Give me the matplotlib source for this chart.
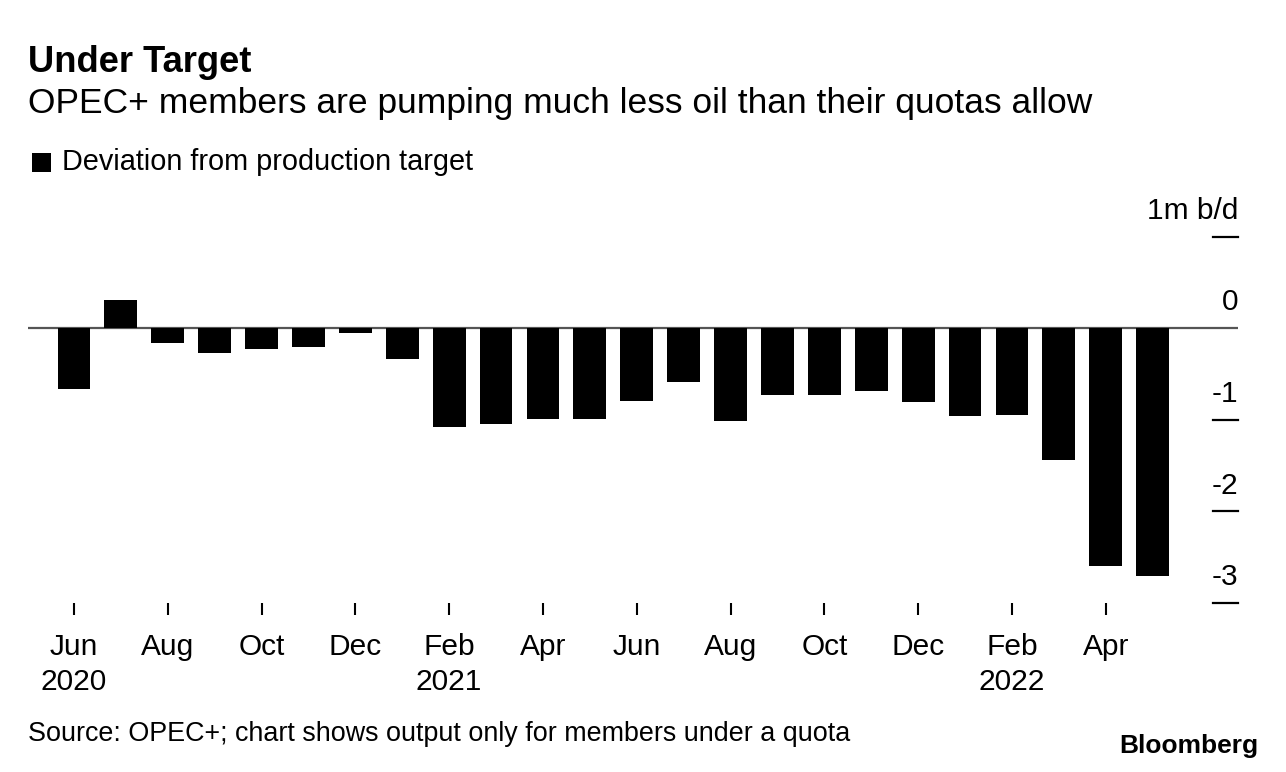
import matplotlib
matplotlib.use("Agg")
import matplotlib.pyplot as plt
from matplotlib.patches import Rectangle

months = ["Jun 2020", "Jul 2020", "Aug 2020", "Sep 2020", "Oct 2020", "Nov 2020",
          "Dec 2020", "Jan 2021", "Feb 2021", "Mar 2021", "Apr 2021", "May 2021",
          "Jun 2021", "Jul 2021", "Aug 2021", "Sep 2021", "Oct 2021", "Nov 2021",
          "Dec 2021", "Jan 2022", "Feb 2022", "Mar 2022", "Apr 2022", "May 2022"]
deviation = [-0.66, 0.31, -0.16, -0.27, -0.23, -0.21, -0.05, -0.34, -1.08, -1.05,
             -0.99, -0.99, -0.79, -0.59, -1.01, -0.73, -0.73, -0.68, -0.81, -0.96,
             -0.95, -1.44, -2.59, -2.70]
xtick_pos = [0, 2, 4, 6, 8, 10, 12, 14, 16, 18, 20, 22]
xtick_labels = ["Jun\n2020", "Aug", "Oct", "Dec", "Feb\n2021", "Apr", "Jun", "Aug",
                "Oct", "Dec", "Feb\n2022", "Apr"]
ytick_vals = [1, 0, -1, -2, -3]
ytick_labels = ["1m b/d", "0", "-1", "-2", "-3"]

plt.rcParams['font.family'] = ['Liberation Sans', 'DejaVu Sans']

W, H = 1286, 772
fig = plt.figure(figsize=(W / 100, H / 100), dpi=100)
left_px, right_px, bottom_px, top_px = 28, 1238, 615, 200
ax = fig.add_axes([left_px / W, 1 - bottom_px / H, (right_px - left_px) / W,
                   (bottom_px - top_px) / H])

x = list(range(len(months)))
ax.bar(x, deviation, width=0.7, color="black", zorder=3)
ax.axhline(0, color="#555555", linewidth=1.6, zorder=2)

ax.set_xlim(-0.98, 24.82)
ax.set_ylim(-3.13, 1.40)

for s in ax.spines.values():
    s.set_visible(False)

ax.set_xticks(xtick_pos)
ax.set_xticklabels(xtick_labels, fontsize=21.5, linespacing=1.3)
ax.tick_params(axis="x", direction="in", length=9, width=1.5, color="black",
               pad=13)
ax.set_yticks([])

ytrans = ax.get_yaxis_transform()
tick_frac = 25 / (right_px - left_px)
for v, lab in zip(ytick_vals, ytick_labels):
    if v != 0:
        ax.plot([1 - tick_frac, 1], [v, v], color="black", linewidth=1.6,
                transform=ytrans, clip_on=False, zorder=4)
    ax.text(1.0, v + 0.13, lab, transform=ytrans, ha="right", va="bottom",
            fontsize=21.5, clip_on=False)

fig.text(28 / W, 1 - 62 / H, "Under Target", fontsize=26.2, fontweight="bold",
         ha="left", va="center")
fig.text(28 / W, 1 - 104 / H, "OPEC+ members are pumping much less oil than their quotas allow",
         fontsize=25.5, ha="left", va="center")
fig.patches.append(Rectangle((32 / W, 1 - 172 / H), 19 / W, 19 / H,
                             transform=fig.transFigure, facecolor="black",
                             edgecolor="none"))
fig.text(62 / W, 1 - 162 / H, "Deviation from production target", fontsize=20.8,
         ha="left", va="center")
fig.text(28 / W, 1 - 734 / H, "Source: OPEC+; chart shows output only for members under a quota",
         fontsize=19.4, ha="left", va="center")
fig.text(1258 / W, 1 - 746 / H, "Bloomberg", fontsize=19, fontweight="heavy",
         ha="right", va="center")

fig.savefig("out.png", dpi=100)
